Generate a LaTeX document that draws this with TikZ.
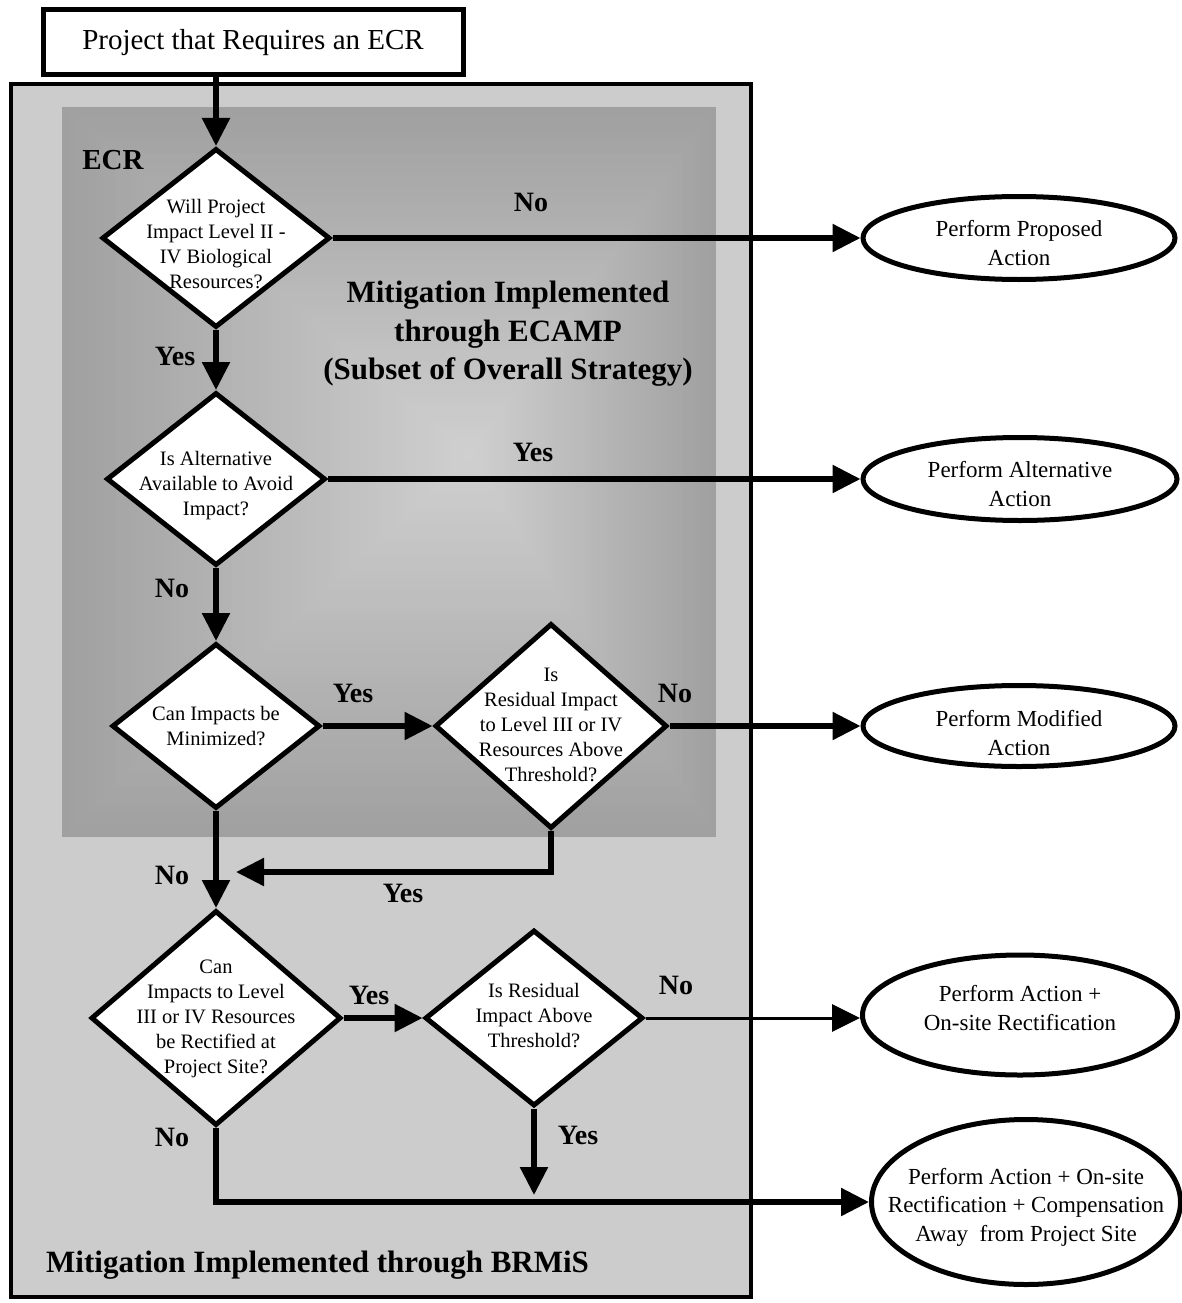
\documentclass[tikz,border=0pt]{standalone}
\usepackage{fontspec}
\setmainfont{Liberation Serif}
\usetikzlibrary{shapes.geometric,arrows.meta}
\definecolor{outerfill}{HTML}{CCCCCC}
\definecolor{graddark}{HTML}{A0A0A0}
\definecolor{gradlight}{HTML}{D0D0D0}
\tikzset{
  dia/.style={draw, diamond, fill=white, line width=5pt, inner sep=0pt},
  dtxt/.style={align=center, font=\fontsize{20.5}{25}\selectfont, inner sep=0pt},
  ell/.style={draw, ellipse, fill=white, line width=5pt, inner sep=0pt},
  etxt/.style={align=center, font=\fontsize{23}{28.5}\selectfont, inner sep=0pt},
  lbl/.style={font=\fontsize{28}{32}\selectfont\bfseries, inner sep=0pt},
  biglbl/.style={align=center, font=\fontsize{31}{38.5}\selectfont\bfseries, inner sep=0pt},
  arr/.style={line width=5.5pt, -{Triangle[length=28pt,width=27pt]}},
  thinarr/.style={line width=3pt, -{Triangle[length=28pt,width=27pt]}},
}
\begin{document}
\begin{tikzpicture}[x=1pt,y=-1pt]
\useasboundingbox (0,0) rectangle (1182,1303);
% outer BRMiS box
\draw[line width=4pt, fill=outerfill] (11,84) rectangle (751,1297);
% inner ECAMP gradient box
\foreach \i in {0,...,59}{
  \pgfmathsetmacro{\f}{\i/60}
  \pgfmathsetmacro{\p}{100*\f}
  \fill[gradlight!\p!graddark] ({62+408*\f},{107+348*\f}) rectangle ({716-246*\f},{837-382*\f});
}
% area labels
\node[lbl, font=\fontsize{29}{32}\selectfont\bfseries] (ecr) at (113,160) {ECR};
\node[biglbl] (ecamp) at (508,334) {Mitigation Implemented\\through ECAMP\\(Subset of Overall Strategy)};
\node[lbl, font=\fontsize{31}{34}\selectfont\bfseries, anchor=west] (brmis) at (46,1265) {Mitigation Implemented through BRMiS};
% start box
\node[draw, fill=white, line width=5pt, minimum width=420pt, minimum height=65pt, inner sep=0pt,
      font=\fontsize{29}{32}\selectfont] (top) at (253,42.5) {Project that Requires an ECR};
% diamonds
\node[dia, minimum width=228pt, minimum height=179pt] (d1) at (216,238) {};
\node[dtxt] (t1) at (216,244) {Will Project\\Impact Level II -\\IV Biological\\Resources?};
\node[dia, minimum width=219pt, minimum height=173pt] (d2) at (216,479) {};
\node[dtxt] (t2) at (216,486) {Is Alternative\\Available to Avoid\\Impact?};
\node[dia, minimum width=208pt, minimum height=165pt] (d3) at (216,726) {};
\node[dtxt] (t3) at (216,726) {Can Impacts be\\Minimized?};
\node[dia, minimum width=232pt, minimum height=205pt] (d4) at (551,726) {};
\node[dtxt] (t4) at (551,725) {Is\\Residual Impact\\to Level III or IV\\Resources Above\\Threshold?};
\node[dia, minimum width=250pt, minimum height=215pt] (d5) at (216,1018) {};
\node[dtxt] (t5) at (216,1019) {Can\\Impacts to Level\\III or IV Resources\\be Rectified at\\Project Site?};
\node[dia, minimum width=218pt, minimum height=176pt] (d6) at (534,1018) {};
\node[dtxt] (t6) at (534,1016) {Is Residual\\Impact Above\\Threshold?};
% ellipses
\node[ell, minimum width=312pt, minimum height=83pt] (e1) at (1019,238) {};
\node[etxt] (s1) at (1019,243) {Perform Proposed\\Action};
\node[ell, minimum width=314pt, minimum height=83pt] (e2) at (1020,479) {};
\node[etxt] (s2) at (1020,484) {Perform Alternative\\Action};
\node[ell, minimum width=312pt, minimum height=81pt] (e3) at (1019,726) {};
\node[etxt] (s3) at (1019,733) {Perform Modified\\Action};
\node[ell, minimum width=315pt, minimum height=120pt] (e4) at (1020,1015) {};
\node[etxt] (s4) at (1020,1008) {Perform Action +\\On-site Rectification};
\node[ell, minimum width=309pt, minimum height=165pt] (e5) at (1026,1202) {};
\node[etxt] (s5) at (1026,1207) {Perform Action + On-site\\Rectification + Compensation\\Away~~from Project Site};
% helper coordinates
\coordinate (ret) at (236,872);
\coordinate (y6) at (534,1195);
% connectors
\draw[arr] (top.south -| d1.north) -- (d1.north);
\draw[arr] (d1.east) -- (e1.west);
\draw[arr] (d1.south) -- (d2.north);
\draw[arr] (d2.east) -- (e2.west);
\draw[arr] (d2.south) -- (d3.north);
\draw[arr] (d3.east) -- (d4.west);
\draw[arr] (d4.east) -- (e3.west);
\draw[arr] (d4.south) |- (ret);
\draw[arr] (d3.south) -- (d5.north);
\draw[arr] (d5.east) -- (d6.west);
\draw[thinarr] (d6.east) -- (d6.east -| e4.west);
\draw[arr] (d6.south) -- (y6);
\draw[arr] (d5.south) |- (e5.west);
% connector labels
\node[lbl] (l1) at (531,202) {No};
\node[lbl] (l2) at (175,356) {Yes};
\node[lbl] (l3) at (533,452) {Yes};
\node[lbl] (l4) at (172,588) {No};
\node[lbl] (l5) at (353,693) {Yes};
\node[lbl] (l6) at (675,693) {No};
\node[lbl] (l7) at (172,875) {No};
\node[lbl] (l8) at (403,893) {Yes};
\node[lbl] (l9) at (369,995) {Yes};
\node[lbl] (l10) at (676,985) {No};
\node[lbl] (l11) at (578,1135) {Yes};
\node[lbl] (l12) at (172,1137) {No};
\end{tikzpicture}
\end{document}
